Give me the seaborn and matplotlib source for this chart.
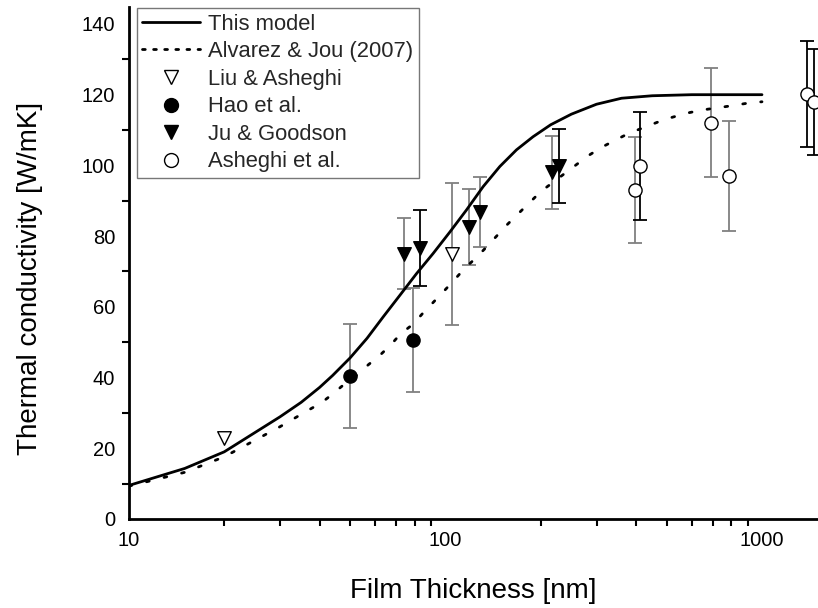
import matplotlib
matplotlib.use("Agg")
import matplotlib.pyplot as plt
import seaborn as sns
import pandas as pd
from matplotlib.lines import Line2D
from matplotlib.ticker import LogLocator, MultipleLocator, FixedLocator, NullFormatter

# ---- data ----
model_x = [10, 15, 20, 30, 35, 40, 44, 50, 56.5, 63.6, 71.8, 81, 91.4, 103.3, 116.5,
           131.5, 148.5, 167.6, 189, 215, 250, 300, 360, 450, 600, 1000]
model_y = [9.5, 14.3, 19, 28.9, 33.0, 37.2, 40.6, 45.6, 51.1, 57.2, 63.3, 69.4, 75.1, 81.2,
           87.4, 94.0, 99.7, 104.4, 108.1, 111.5, 114.5, 117.3, 119.0, 119.7, 120, 120]

alv_x = [10, 15, 20, 30, 36.9, 40.6, 44.2, 48.3, 52.5, 57, 62.2, 67.1, 72, 79, 85, 92,
         99, 106.6, 115, 125, 135, 145, 156, 170, 184, 200, 282, 311, 345, 380, 423,
         470, 520, 580, 650, 725, 805, 900, 1000]
alv_y = [9.3, 13.2, 17.6, 26.1, 30.8, 32.9, 35.5, 38.4, 40.7, 43.6, 46.4, 49.2, 52.3,
         55.1, 58.3, 61.5, 64.5, 67.6, 70.9, 73.9, 77, 80, 83.1, 86.4, 89.4, 92.6,
         102.7, 105.1, 107.2, 109.1, 110.7, 112.3, 113.6, 114.8, 115.7, 116.3, 116.9,
         117.6, 118]

liu_x = [20, 105]
liu_y = [23, 75]
liu_err = [0, 20]
liu_ecol = ["gray", "gray"]

hao_x = [50, 79]
hao_y = [40.5, 50.5]
hao_err = [14.7, 14.7]
hao_ecol = ["gray", "gray"]

ju_x = [74, 83, 119, 129, 217, 228]
ju_y = [75, 76.7, 82.6, 86.9, 98, 99.8]
ju_err = [10, 10.7, 10.7, 9.9, 10.3, 10.4]
ju_ecol = ["gray", "black", "gray", "gray", "gray", "black"]

ash_x = [397, 412, 690, 787, 1384, 1462]
ash_y = [93, 99.8, 112.1, 97, 120.2, 118]
ash_err = [15, 15.2, 15.5, 15.5, 15, 15]
ash_ecol = ["gray", "black", "gray", "gray", "black", "black"]

labels = ["This model", "Alvarez & Jou (2007)", "Liu & Asheghi", "Hao et al.",
          "Ju & Goodson", "Asheghi et al."]

# ---- style ----
sns.set_theme(style="white")
plt.rcParams["font.family"] = ["Liberation Sans", "DejaVu Sans"]

fig = plt.figure(figsize=(8.18, 6.08), dpi=100)
ax = fig.add_axes([129 / 818, 89 / 608, 1 - 129 / 818, (519 - 7) / 608])

df_model = pd.DataFrame({"x": model_x, "y": model_y})
df_alv = pd.DataFrame({"x": alv_x, "y": alv_y})

sns.lineplot(data=df_model, x="x", y="y", ax=ax, color="black", lw=2.0,
             estimator=None, sort=False, zorder=3)
sns.lineplot(data=df_alv, x="x", y="y", ax=ax, color="black", lw=2.0,
             estimator=None, sort=False, zorder=3, dashes=False)
ax.lines[-1].set_linestyle((0, (1.0, 5.5)))
ax.lines[-1].set_dash_capstyle("round")

series = [
    (liu_x, liu_y, liu_err, liu_ecol, "v", "white"),
    (hao_x, hao_y, hao_err, hao_ecol, "o", "black"),
    (ju_x, ju_y, ju_err, ju_ecol, "v", "black"),
    (ash_x, ash_y, ash_err, ash_ecol, "o", "white"),
]
for xs, ys, es, cs, mk, fc in series:
    for xv, yv, ev, cv in zip(xs, ys, es, cs):
        if ev > 0:
            ax.errorbar([xv], [yv], yerr=[ev], fmt="none", ecolor=cv,
                        elinewidth=1.3, capsize=5, capthick=1.3, zorder=2)
    dfp = pd.DataFrame({"x": xs, "y": ys})
    sns.scatterplot(data=dfp, x="x", y="y", ax=ax, marker=mk, s=95 if mk == "v" else 90,
                    color=fc, edgecolor="black", linewidth=1.0, zorder=4)

ax.set_xscale("log")
ax.set_xlim(10, 1503)
ax.set_ylim(0, 144.8)

ax.xaxis.set_major_locator(FixedLocator([10, 100, 1000]))
ax.set_xticklabels(["10", "100", "1000"])
ax.xaxis.set_minor_locator(LogLocator(base=10, subs=range(2, 10)))
ax.xaxis.set_minor_formatter(NullFormatter())
ax.yaxis.set_major_locator(MultipleLocator(20))
ax.yaxis.set_minor_locator(MultipleLocator(10))

for s in ["top", "right"]:
    ax.spines[s].set_visible(False)
for s in ["left", "bottom"]:
    ax.spines[s].set_color("black")
    ax.spines[s].set_linewidth(2.0)

ax.tick_params(axis="x", which="major", direction="inout", length=10, width=1.5,
               labelsize=14.5, colors="black", pad=4)
ax.tick_params(axis="x", which="minor", direction="out", length=5, width=1.5,
               colors="black", bottom=True)
ax.tick_params(axis="y", which="major", direction="out", length=7, width=1.5,
               labelsize=14.5, colors="black", pad=3)
ax.tick_params(axis="y", which="minor", direction="out", length=5, width=1.5,
               colors="black", left=True)

ax.set_xlabel("Film Thickness [nm]", fontsize=20, color="black", labelpad=20)
ax.set_ylabel("Thermal conductivity [W/mK]", fontsize=20, color="black", labelpad=28)
ax.yaxis.label.set_y(0.47)

handles = [
    Line2D([], [], color="black", lw=2.0),
    Line2D([], [], color="black", lw=2.0, linestyle=(0, (1.0, 3.0)), dash_capstyle="round"),
    Line2D([], [], color="black", marker="v", markerfacecolor="white", markersize=10, ls="none", mew=1.0),
    Line2D([], [], color="black", marker="o", markerfacecolor="black", markersize=10, ls="none"),
    Line2D([], [], color="black", marker="v", markerfacecolor="black", markersize=10, ls="none"),
    Line2D([], [], color="black", marker="o", markerfacecolor="white", markersize=10, ls="none", mew=1.0),
]
leg = ax.legend(handles, labels, loc="upper left", bbox_to_anchor=(0.011, 0.998),
                fontsize=15.8, frameon=True, fancybox=False, edgecolor="#777777",
                handlelength=2.65, handletextpad=0.35, labelspacing=0.3,
                borderpad=0.25, borderaxespad=0.0, framealpha=1)
leg.get_frame().set_linewidth(1.0)

fig.savefig("out.png", dpi=100)
